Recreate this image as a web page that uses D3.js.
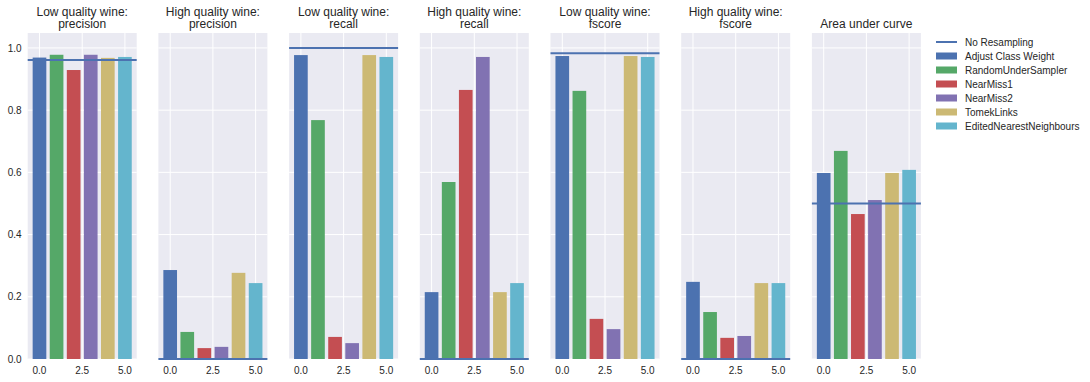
<!DOCTYPE html>
<html><head><meta charset="utf-8">
<script src="https://cdn.jsdelivr.net/npm/d3@7"></script>
<style>body{margin:0;background:#fff;} text{font-family:"Liberation Sans",Arial,sans-serif;}</style>
</head><body>
<svg id="c" width="1090" height="382"></svg>
<script>
const methods = ["Adjust Class Weight","RandomUnderSampler","NearMiss1","NearMiss2","TomekLinks","EditedNearestNeighbours"];
const colors = ["#4C72B0","#55A868","#C44E52","#8172B2","#CCB974","#64B5CD"];
const panelTitles = [
  ["Low quality wine:","precision"],
  ["High quality wine:","precision"],
  ["Low quality wine:","recall"],
  ["High quality wine:","recall"],
  ["Low quality wine:","fscore"],
  ["High quality wine:","fscore"],
  ["Area under curve"]
];
const lowPrecision  = [0.969,0.978,0.929,0.978,0.968,0.971];
const highPrecision = [0.286,0.087,0.035,0.039,0.277,0.244];
const lowRecall     = [0.977,0.768,0.071,0.051,0.977,0.971];
const highRecall    = [0.215,0.569,0.865,0.971,0.215,0.244];
const lowFscore     = [0.974,0.862,0.129,0.096,0.974,0.971];
const highFscore    = [0.248,0.151,0.068,0.074,0.244,0.244];
const auc           = [0.598,0.669,0.466,0.511,0.598,0.608];
const noResampling  = [0.961,0.0,1.0,0.0,0.983,0.0,0.5];
const xTicks = [0.0,2.5,5.0];
const yTicks = [0.0,0.2,0.4,0.6,0.8,1.0];

const panelValues = [lowPrecision,highPrecision,lowRecall,highRecall,lowFscore,highFscore,auc];

const svg = d3.select("#c");
const plotTop = 33, plotBottom = 359, pw = 109, step = 130.7, left0 = 27.7;
const y = d3.scaleLinear().domain([0,1.048]).range([plotBottom, plotTop]);

panelValues.forEach((vals, i) => {
  const x0 = left0 + i*step;
  const x = d3.scaleLinear().domain([-0.69,5.69]).range([x0, x0+pw]);
  const g = svg.append("g");
  g.append("rect").attr("x",x0).attr("y",plotTop).attr("width",pw).attr("height",plotBottom-plotTop).attr("fill","#EAEAF2");
  g.selectAll("line.gy").data(yTicks).enter().append("line")
    .attr("x1",x0).attr("x2",x0+pw).attr("y1",d=>y(d)).attr("y2",d=>y(d))
    .attr("stroke","#fff").attr("stroke-width",1);
  g.selectAll("line.gx").data(xTicks).enter().append("line")
    .attr("x1",d=>x(d)).attr("x2",d=>x(d)).attr("y1",plotTop).attr("y2",plotBottom)
    .attr("stroke","#fff").attr("stroke-width",1);
  g.selectAll("rect.bar").data(vals).enter().append("rect")
    .attr("x",(d,j)=>x(j-0.4)).attr("width",(d,j)=>x(j+0.4)-x(j-0.4))
    .attr("y",d=>y(d)).attr("height",d=>y(0)-y(d))
    .attr("fill",(d,j)=>colors[j]);
  g.append("line").attr("x1",x0).attr("x2",x0+pw)
    .attr("y1",y(noResampling[i])).attr("y2",y(noResampling[i]))
    .attr("stroke","#4C72B0").attr("stroke-width",2);
  g.selectAll("text.xt").data(xTicks).enter().append("text")
    .attr("x",d=>x(d)).attr("y",373.5).attr("text-anchor","middle")
    .attr("font-size","10px").attr("fill","#262626").text(d=>d3.format(".1f")(d));
  const tl = panelTitles[i];
  const tx = x0 + pw/2;
  if (tl.length === 2) {
    g.append("text").attr("x",tx).attr("y",16).attr("text-anchor","middle").attr("font-size","12px").attr("fill","#262626").text(tl[0]);
    g.append("text").attr("x",tx).attr("y",28).attr("text-anchor","middle").attr("font-size","12px").attr("fill","#262626").text(tl[1]);
  } else {
    g.append("text").attr("x",tx).attr("y",27.5).attr("text-anchor","middle").attr("font-size","12px").attr("fill","#262626").text(tl[0]);
  }
  if (i===0) {
    g.selectAll("text.yt").data(yTicks).enter().append("text")
      .attr("x",x0-6).attr("y",d=>y(d)+3.6).attr("text-anchor","end")
      .attr("font-size","10px").attr("fill","#262626").text(d=>d3.format(".1f")(d));
  }
});

const lg = svg.append("g").attr("transform","translate(936,42)");
lg.append("line").attr("x1",0).attr("x2",21).attr("y1",0).attr("y2",0).attr("stroke","#4C72B0").attr("stroke-width",2);
lg.append("text").attr("x",29).attr("y",3.6).attr("font-size","10px").attr("fill","#262626").text("No Resampling");
methods.forEach((m,j)=>{
  const yy = (j+1)*14;
  lg.append("rect").attr("x",0).attr("y",yy-3.5).attr("width",21).attr("height",7).attr("fill",colors[j]);
  lg.append("text").attr("x",29).attr("y",yy+3.6).attr("font-size","10px").attr("fill","#262626").text(m);
});
</script>
</body></html>
